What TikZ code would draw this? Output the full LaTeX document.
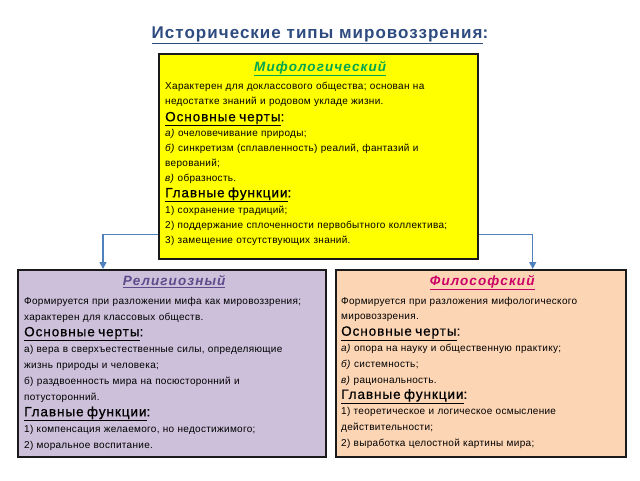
\documentclass[tikz,border=0pt]{standalone}
\usepackage{fontspec}
\setmainfont{Liberation Sans}
\usepackage{xcolor}
\usetikzlibrary{positioning,calc,arrows.meta}

\definecolor{titleblue}{HTML}{2E4B80}
\definecolor{mythyellow}{HTML}{FFFF00}
\definecolor{religlilac}{HTML}{CCC0DA}
\definecolor{philopeach}{HTML}{FCD5B5}
\definecolor{mythgreen}{HTML}{00A650}
\definecolor{religpurple}{HTML}{5F4B8B}
\definecolor{philomagenta}{HTML}{CC0066}
\definecolor{boxborder}{HTML}{1A1A1A}
\definecolor{linkblue}{HTML}{4F81BD}

% headings inside the boxes
\newcommand{\typehead}[2]{{\fontsize{13.5}{15}\selectfont\bfseries\itshape\addfontfeature{LetterSpace=8}\color{#1}\underline{#2}}\par\vspace{3pt}}
\newcommand{\feat}[1]{{\fontsize{13.5}{15}\selectfont\addfontfeature{LetterSpace=7,FakeBold=0.6}\underline{#1}:}}

\tikzset{
  typebox/.style={draw=boxborder, line width=1.7pt, anchor=north west, inner sep=0pt},
  boxtext/.style={anchor=north west, align=left, inner sep=0pt,
    font=\fontsize{10}{15}\selectfont\addfontfeature{LetterSpace=3}},
  link/.style={draw=linkblue, line width=1.4pt, -{Triangle[length=7pt,width=7pt]}},
}

\begin{document}
\begin{tikzpicture}[x=1pt, y=-1pt]
    \useasboundingbox (0,0) rectangle (640,480);

    % Title
    \node[font=\fontsize{17}{20}\selectfont\bfseries\addfontfeature{LetterSpace=6}, text=titleblue] (heading) at (320,35)
        {\underline{Исторические типы мировоззрения}:};

    % Boxes
    \node[typebox, fill=mythyellow, minimum width=319pt, minimum height=205pt] (myth) at (158,53) {};
    \node[typebox, fill=religlilac, minimum width=308pt, minimum height=187pt] (relig) at (17,269) {};
    \node[typebox, fill=philopeach, minimum width=290pt, minimum height=187pt] (philo) at (335,269) {};

    % Mythological
    \node[boxtext, text width=310pt] (mythtext) at ([xshift=7pt,yshift=-8pt]myth.north west) {%
        {\centering\typehead{mythgreen}{Мифологический}}
        Характерен для доклассового общества; основан на\\
        недостатке знаний и родовом укладе жизни.\\[2pt]
        \feat{Основные черты}\\
        \textit{а)} очеловечивание природы;\\
        \textit{б)} синкретизм (сплавленность) реалий, фантазий и\\
        верований;\\
        \textit{в)} образность.\\[1pt]
        \feat{Главные функции}\\[1pt]
        1) сохранение традиций;\\
        2) поддержание сплоченности первобытного коллектива;\\
        3) замещение отсутствующих знаний.};

    % Religious
    \node[boxtext, text width=300pt, font=\fontsize{10}{16}\selectfont\addfontfeature{LetterSpace=3}] (religtext) at ([xshift=7pt,yshift=-6pt]relig.north west) {%
        {\centering\typehead{religpurple}{Религиозный}}
        Формируется при разложении мифа как мировоззрения;\\
        характерен для классовых обществ.\\
        \feat{Основные черты}\\
        а) вера в сверхъестественные силы, определяющие\\
        жизнь природы и человека;\\
        б) раздвоенность мира на посюсторонний и\\
        потусторонний.\\
        \feat{Главные функции}\\
        1) компенсация желаемого, но недостижимого;\\
        2) моральное воспитание.};

    % Philosophical
    \node[boxtext, text width=282pt, font=\fontsize{10}{15.8}\selectfont\addfontfeature{LetterSpace=3}] (philotext) at ([xshift=6pt,yshift=-6pt]philo.north west) {%
        {\centering\typehead{philomagenta}{Философский}}
        Формируется при разложения мифологического\\
        мировоззрения.\\
        \feat{Основные черты}\\
        \textit{а)} опора на науку и общественную практику;\\
        \textit{б)} системность;\\
        \textit{в)} рациональность.\\
        \feat{Главные функции}\\
        1) теоретическое и логическое  осмысление\\
        действительности;\\
        2) выработка целостной картины мира;};

    % Connections
    \draw[link] ([yshift=25pt]myth.south west) -| ([xshift=86pt]relig.north west);
    \draw[link] ([yshift=25pt]myth.south east) -| ([xshift=-94pt]philo.north east);
\end{tikzpicture}
\end{document}
